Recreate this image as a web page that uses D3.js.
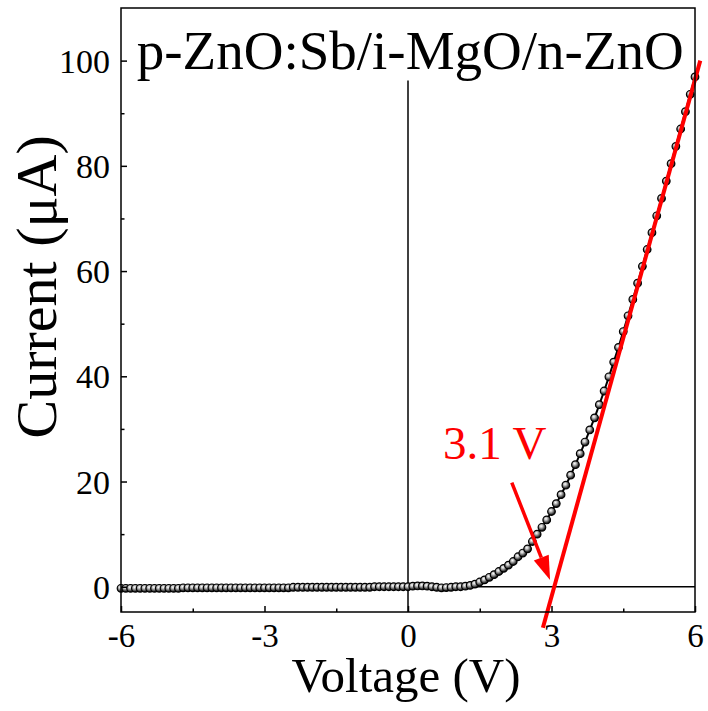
<!DOCTYPE html>
<html>
<head>
<meta charset="utf-8">
<script src="https://cdn.jsdelivr.net/npm/d3@7"></script>
<style>
body{margin:0;background:#fff;}
text{font-family:"Liberation Serif","Times New Roman",serif;}
</style>
</head>
<body>
<svg id="chart" width="708" height="711"></svg>
<script>
// measured I-V curve, 0.1 V steps
const voltage=[-6.0,-5.9,-5.8,-5.7,-5.6,-5.5,-5.4,-5.3,-5.2,-5.1,-5.0,-4.9,-4.8,-4.7,-4.6,-4.5,-4.4,-4.3,-4.2,-4.1,
-4.0,-3.9,-3.8,-3.7,-3.6,-3.5,-3.4,-3.3,-3.2,-3.1,-3.0,-2.9,-2.8,-2.7,-2.6,-2.5,-2.4,-2.3,-2.2,-2.1,
-2.0,-1.9,-1.8,-1.7,-1.6,-1.5,-1.4,-1.3,-1.2,-1.1,-1.0,-0.9,-0.8,-0.7,-0.6,-0.5,-0.4,-0.3,-0.2,-0.1,
0.0,0.1,0.2,0.3,0.4,0.5,0.6,0.7,0.8,0.9,1.0,1.1,1.2,1.3,1.4,1.5,1.6,1.7,1.8,1.9,
2.0,2.1,2.2,2.3,2.4,2.5,2.6,2.7,2.8,2.9,3.0,3.1,3.2,3.3,3.4,3.5,3.6,3.7,3.8,3.9,
4.0,4.1,4.2,4.3,4.4,4.5,4.6,4.7,4.8,4.9,5.0,5.1,5.2,5.3,5.4,5.5,5.6,5.7,5.8,5.9,6.0];
const current=[-0.3,-0.3,-0.3,-0.3,-0.3,-0.3,-0.3,-0.3,-0.3,-0.3,-0.3,-0.3,-0.3,-0.2,-0.2,-0.2,-0.2,-0.2,-0.2,-0.2,
-0.2,-0.2,-0.2,-0.2,-0.2,-0.2,-0.2,-0.2,-0.2,-0.2,-0.2,-0.2,-0.2,-0.2,-0.2,-0.2,-0.1,-0.1,-0.1,-0.1,
-0.1,-0.1,-0.1,-0.1,-0.1,-0.1,-0.1,-0.1,-0.1,-0.1,-0.1,-0.1,-0.1,0.0,0.0,0.0,0.0,0.0,0.0,0.0,
0.0,0.1,0.15,0.15,0.1,0.0,-0.1,-0.2,-0.15,-0.1,0.0,0.0,0.1,0.25,0.5,0.9,1.3,1.8,2.3,2.9,
3.5,4.1,4.8,5.7,6.4,7.2,8.6,10.0,11.3,12.7,14.3,15.8,17.5,19.3,21.2,23.2,25.3,27.5,29.8,32.1,
34.6,37.2,39.9,42.7,45.5,48.5,51.5,54.6,57.7,60.9,64.1,67.3,70.5,73.8,77.1,80.4,83.7,87.0,90.3,93.6,96.9];

// linear fit for turn-on voltage
const fitV=[2.82,6.11];
const fitI=[-7.8,100];
const arrowV=[2.17,2.97];
const arrowI=[19.8,1.3];

const xTicks=[-6,-3,0,3,6];
const xMinor=[-4.5,-1.5,1.5,4.5];
const yTicks=[0,20,40,60,80,100];
const yMinor=[10,30,50,70,90];

const margin={left:121,right:13,top:8,bottom:99};
const W=708,H=711;
const svg=d3.select('#chart');

const x=d3.scaleLinear().domain([-6,6]).range([margin.left,W-margin.right]);
const y=d3.scaleLinear().domain([-4.8,110]).range([H-margin.bottom,margin.top]);

const defs=svg.append('defs');
const grad=defs.append('radialGradient').attr('id','ball').attr('cx','40%').attr('cy','35%').attr('r','60%');
grad.append('stop').attr('offset','0%').attr('stop-color','#fff');
grad.append('stop').attr('offset','35%').attr('stop-color','#bbb');
grad.append('stop').attr('offset','100%').attr('stop-color','#111');

// zero lines
svg.append('line').attr('x1',x(-6)).attr('x2',x(6)).attr('y1',y(0)).attr('y2',y(0))
.attr('stroke','#000').attr('stroke-width',1.5);
svg.append('line').attr('x1',x(0)).attr('x2',x(0)).attr('y1',y(96.2)).attr('y2',y(-4.8))
.attr('stroke','#000').attr('stroke-width',1.5);

// curve
const pts=voltage.map((v,i)=>[v,current[i]]);
svg.append('path').datum(pts).attr('d',d3.line().x(d=>x(d[0])).y(d=>y(d[1])))
.attr('fill','none').attr('stroke','#000').attr('stroke-width',2);
svg.selectAll('circle.pt').data(pts).join('circle').attr('class','pt')
.attr('cx',d=>x(d[0])).attr('cy',d=>y(d[1])).attr('r',3.8)
.attr('fill','url(#ball)').attr('stroke','#000').attr('stroke-width',1.2);

// fit line
svg.append('line').attr('x1',x(fitV[0])).attr('y1',y(fitI[0])).attr('x2',x(fitV[1])).attr('y2',y(fitI[1]))
.attr('stroke','red').attr('stroke-width',4);

// arrow + label
const ax0=x(arrowV[0]),ay0=y(arrowI[0]),ax1=x(arrowV[1]),ay1=y(arrowI[1]);
const ang=Math.atan2(ay1-ay0,ax1-ax0);
const headLen=24,headW=8;
const bx=ax1-headLen*Math.cos(ang),by=ay1-headLen*Math.sin(ang);
svg.append('line').attr('x1',ax0).attr('y1',ay0).attr('x2',bx).attr('y2',by)
.attr('stroke','red').attr('stroke-width',3.5);
svg.append('path').attr('fill','red')
.attr('d','M'+ax1+','+ay1+'L'+(bx+headW*Math.sin(ang))+','+(by-headW*Math.cos(ang))
+'L'+(bx-headW*Math.sin(ang))+','+(by+headW*Math.cos(ang))+'Z');
svg.append('text').attr('x',x(0.73)).attr('y',y(24.3)).attr('fill','red')
.attr('font-size',47).text('3.1 V');

// frame
svg.append('rect').attr('x',x(-6)).attr('y',y(110)).attr('width',x(6)-x(-6)).attr('height',y(-4.8)-y(110))
.attr('fill','none').attr('stroke','#000').attr('stroke-width',1.5);

// axes
const fmt=d=>String(d);
const xAxis=svg.append('g').attr('transform','translate(0,'+y(-4.8)+')')
.call(d3.axisBottom(x).tickValues(xTicks).tickSizeInner(-6).tickSizeOuter(0).tickFormat(fmt));
svg.append('g').attr('transform','translate(0,'+y(-4.8)+')')
.call(d3.axisBottom(x).tickValues(xMinor).tickSizeInner(-3.5).tickSizeOuter(0).tickFormat(''));
const yAxis=svg.append('g').attr('transform','translate('+x(-6)+',0)')
.call(d3.axisLeft(y).tickValues(yTicks).tickSizeInner(-6).tickSizeOuter(0).tickFormat(fmt));
svg.append('g').attr('transform','translate('+x(-6)+',0)')
.call(d3.axisLeft(y).tickValues(yMinor).tickSizeInner(-3.5).tickSizeOuter(0).tickFormat(''));
svg.selectAll('.domain').remove();
svg.selectAll('.tick line').attr('stroke','#000').attr('stroke-width',1.5);
xAxis.selectAll('.tick text').attr('font-size',33).attr('font-family','Liberation Serif').attr('fill','#000')
.attr('y',12).attr('dy','0.71em');
yAxis.selectAll('.tick text').attr('font-size',34).attr('font-family','Liberation Serif').attr('fill','#000')
.attr('x',-11).attr('dy','0.34em');

// titles
svg.append('text').attr('x',(x(-6)+x(6))/2-2).attr('y',692).attr('text-anchor','middle')
.attr('font-size',49).text('Voltage (V)');
svg.append('text').attr('transform','translate(56,'+(y(57))+') rotate(-90)').attr('text-anchor','middle')
.attr('font-size',58).text('Current (μA)');
svg.append('text').attr('x',x(-5.67)).attr('y',y(98.5)).attr('font-size',55).text('p-ZnO:Sb/i-MgO/n-ZnO');
</script>
</body>
</html>
